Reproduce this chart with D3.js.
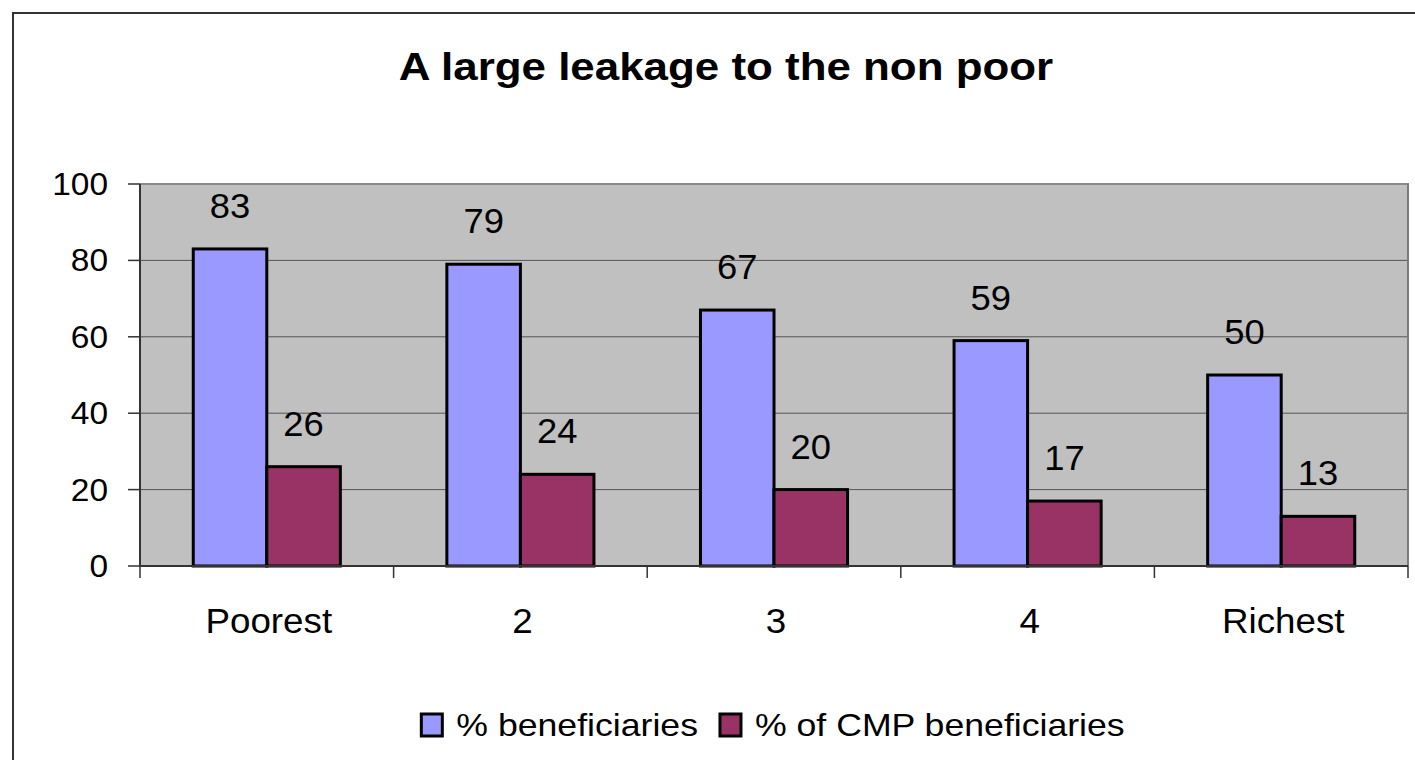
<!DOCTYPE html>
<html>
<head>
<meta charset="utf-8">
<script src="https://cdn.jsdelivr.net/npm/d3@7"></script>
<style>
  html, body { margin: 0; padding: 0; background: #ffffff; }
  svg { display: block; font-family: Arial, "Liberation Sans", sans-serif; }
</style>
</head>
<body>
<svg id="chart" width="1415" height="760"></svg>
<script>
const title = "A large leakage to the non poor";
const categories = ["Poorest", "2", "3", "4", "Richest"];
const seriesNames = ["% beneficiaries", "% of CMP beneficiaries"];
const beneficiaries = [83, 79, 67, 59, 50];
const cmpBeneficiaries = [26, 24, 20, 17, 13];
const seriesColors = ["#9999ff", "#993366"];
const yTicks = [0, 20, 40, 60, 80, 100];

const svg = d3.select("#chart");

// outer frame
svg.append("rect")
  .attr("x", 13).attr("y", 13)
  .attr("width", 1420).attr("height", 770)
  .attr("fill", "#ffffff")
  .attr("stroke", "#333333").attr("stroke-width", 2);

const plot = { left: 140, right: 1408, top: 184, bottom: 566 };

const x0 = d3.scaleBand().domain(categories).range([plot.left, plot.right]).paddingInner(0).paddingOuter(0);
const bw = x0.bandwidth();
const x1 = d3.scaleBand().domain(seriesNames).range([bw * 0.21, bw * 0.79]).padding(0);
const y = d3.scaleLinear().domain([0, 100]).range([plot.bottom, plot.top]);

function sx(sel, s) {
  sel.each(function () {
    const t = d3.select(this);
    const xx = +t.attr("data-x"), yy = +t.attr("data-y");
    t.attr("transform", `translate(${xx},${yy}) scale(${s},1)`);
  });
}

// title
const tt = svg.append("text")
  .attr("data-x", 726).attr("data-y", 80)
  .attr("text-anchor", "middle")
  .attr("font-size", 38).attr("font-weight", "bold")
  .attr("fill", "#000")
  .text(title);
sx(tt, 1.155);

// plot background
svg.append("rect")
  .attr("x", plot.left).attr("y", plot.top)
  .attr("width", plot.right - plot.left).attr("height", plot.bottom - plot.top)
  .attr("fill", "#c0c0c0");

// gridlines
svg.append("g").selectAll("line").data(yTicks.filter(d => d > 0 && d < 100)).join("line")
  .attr("x1", plot.left).attr("x2", plot.right)
  .attr("y1", d => y(d)).attr("y2", d => y(d))
  .attr("stroke", "#555555").attr("stroke-width", 1);

// plot border top & right
svg.append("line").attr("x1", plot.left).attr("x2", plot.right + 1)
  .attr("y1", plot.top).attr("y2", plot.top)
  .attr("stroke", "#8a8a8a").attr("stroke-width", 2);
svg.append("line").attr("x1", plot.right).attr("x2", plot.right)
  .attr("y1", plot.top).attr("y2", plot.bottom)
  .attr("stroke", "#7a7a7a").attr("stroke-width", 2);

// bars
const data = categories.map((c, i) => ({ cat: c, vals: [beneficiaries[i], cmpBeneficiaries[i]] }));
const groups = svg.append("g").selectAll("g").data(data).join("g")
  .attr("transform", d => `translate(${x0(d.cat)},0)`);

groups.selectAll("rect").data(d => d.vals.map((v, j) => ({ v, s: seriesNames[j], j }))).join("rect")
  .attr("x", d => x1(d.s))
  .attr("y", d => y(d.v))
  .attr("width", x1.bandwidth())
  .attr("height", d => y(0) - y(d.v))
  .attr("fill", d => seriesColors[d.j])
  .attr("stroke", "#000").attr("stroke-width", 3);

// data labels
const lbl = groups.selectAll("text").data(d => d.vals.map((v, j) => ({ v, s: seriesNames[j], j }))).join("text")
  .attr("data-x", d => x1(d.s) + x1.bandwidth() / 2)
  .attr("data-y", d => y(d.v) - 31)
  .attr("text-anchor", "middle")
  .attr("font-size", 35)
  .attr("fill", "#000")
  .text(d => d.v);
sx(lbl, 1.04);

// y axis
const yAxis = svg.append("g");
yAxis.append("line").attr("x1", plot.left).attr("x2", plot.left)
  .attr("y1", plot.top).attr("y2", plot.bottom)
  .attr("stroke", "#333").attr("stroke-width", 2);
yAxis.selectAll("line.tick").data(yTicks).join("line").attr("class", "tick")
  .attr("x1", plot.left - 12).attr("x2", plot.left)
  .attr("y1", d => y(d)).attr("y2", d => y(d))
  .attr("stroke", "#333").attr("stroke-width", 1.5);
const yl = yAxis.selectAll("text").data(yTicks).join("text")
  .attr("data-x", 108).attr("data-y", d => y(d) + 11)
  .attr("text-anchor", "end")
  .attr("font-size", 31)
  .attr("fill", "#000")
  .text(d => d);
sx(yl, 1.08);

// x axis
const xAxis = svg.append("g");
xAxis.append("line").attr("x1", plot.left).attr("x2", plot.right)
  .attr("y1", plot.bottom).attr("y2", plot.bottom)
  .attr("stroke", "#333").attr("stroke-width", 2);
const bounds = categories.map(c => x0(c)).concat([plot.right]);
xAxis.selectAll("line.tick").data(bounds).join("line").attr("class", "tick")
  .attr("x1", d => d).attr("x2", d => d)
  .attr("y1", plot.bottom).attr("y2", plot.bottom + 12)
  .attr("stroke", "#333").attr("stroke-width", 1.5);
const xl = xAxis.selectAll("text").data(categories).join("text")
  .attr("data-x", d => x0(d) + bw / 2 + 2).attr("data-y", 633)
  .attr("text-anchor", "middle")
  .attr("font-size", 35)
  .attr("fill", "#000")
  .text(d => d);
sx(xl, 1.05);

// legend
const legend = svg.append("g");
const legScale = 1.15;
let cursor = 0;
seriesNames.forEach((name, i) => {
  const g = legend.append("g");
  g.append("rect").attr("x", cursor).attr("y", 714).attr("width", 21).attr("height", 22)
    .attr("fill", seriesColors[i]).attr("stroke", "#000").attr("stroke-width", 3);
  const t = g.append("text")
    .attr("data-x", cursor + 35).attr("data-y", 736)
    .attr("font-size", 31).attr("fill", "#000")
    .text(name);
  sx(t, legScale);
  const w = t.node().getComputedTextLength() * legScale;
  cursor += 35 + w + 22;
});
const legWidth = cursor - 22;
legend.attr("transform", `translate(${773 - legWidth / 2},0)`);
</script>
</body>
</html>
